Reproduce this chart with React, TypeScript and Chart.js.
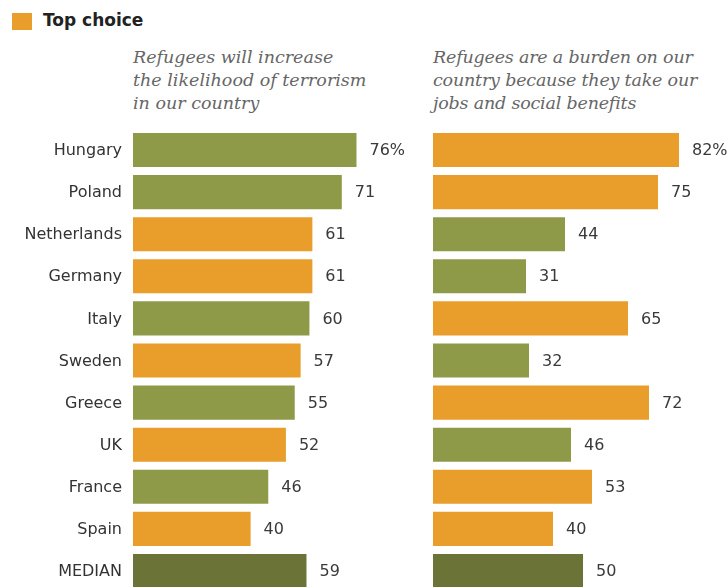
import React, { useEffect, useRef } from "react";
import { Chart, registerables } from "chart.js";

Chart.register(...registerables);

const countries = ["Hungary", "Poland", "Netherlands", "Germany", "Italy", "Sweden", "Greece", "UK", "France", "Spain", "MEDIAN"];
const terrorism = [76, 71, 61, 61, 60, 57, 55, 52, 46, 40, 59];
const burden = [82, 75, 44, 31, 65, 32, 72, 46, 53, 40, 50];
const titleLeft = ["Refugees will increase", "the likelihood of terrorism", "in our country"];
const titleRight = ["Refugees are a burden on our", "country because they take our", "jobs and social benefits"];
const legendLabel = "Top choice";

const ORANGE = "#E99E2C";
const GREEN = "#8F9A48";
const DARK = "#6B7436";

function colorsFor(values: number[], other: number[]) {
  return values.map((v, i) =>
    countries[i] === "MEDIAN" ? DARK : v >= other[i] ? ORANGE : GREEN
  );
}

const valueLabels = {
  id: "valueLabels",
  afterDatasetsDraw(chart: any, _args: any, opts: any) {
    const ctx = chart.ctx;
    const meta = chart.getDatasetMeta(0);
    const data = chart.data.datasets[0].data as number[];
    ctx.save();
    ctx.font = "16px 'DejaVu Sans'";
    ctx.textBaseline = "middle";
    ctx.fillStyle = "#3a3a3a";
    ctx.textAlign = "left";
    meta.data.forEach((el: any, i: number) => {
      const txt = String(data[i]) + (i === 0 ? "%" : "");
      ctx.fillText(txt, el.x + 13, el.y + 1);
    });
    if (opts && opts.categories) {
      const yScale = chart.scales.y;
      ctx.textAlign = "right";
      ctx.fillStyle = "#333";
      chart.data.labels.forEach((lab: string, i: number) => {
        ctx.fillText(lab, chart.chartArea.left - 11, yScale.getPixelForValue(i) + 1);
      });
    }
    ctx.restore();
  },
};

function makeChart(canvas: HTMLCanvasElement, values: number[], other: number[], max: number, showLabels: boolean, padLeft: number, padRight: number) {
  return new Chart(canvas, {
    type: "bar",
    data: {
      labels: countries,
      datasets: [
        {
          data: values,
          backgroundColor: colorsFor(values, other),
          borderWidth: 0,
          barPercentage: 0.81,
          categoryPercentage: 1,
        },
      ],
    },
    options: {
      indexAxis: "y",
      responsive: false,
      animation: false,
      layout: { padding: { top: 129, bottom: 0, left: padLeft, right: padRight } },
      plugins: {
        legend: { display: false },
        tooltip: { enabled: false },
        valueLabels: { categories: showLabels },
      } as any,
      scales: {
        x: { display: false, min: 0, max },
        y: { display: false },
      },
    },
    plugins: [valueLabels],
  });
}

export default function App() {
  const leftRef = useRef<HTMLCanvasElement>(null);
  const rightRef = useRef<HTMLCanvasElement>(null);

  useEffect(() => {
    const a = makeChart(leftRef.current!, terrorism, burden, 90.8, true, 133, 30);
    const b = makeChart(rightRef.current!, burden, terrorism, 98.33, false, 33, 0);
    return () => {
      a.destroy();
      b.destroy();
    };
  }, []);

  const titleStyle: React.CSSProperties = {
    position: "absolute",
    top: 46,
    fontFamily: "'DejaVu Serif', serif",
    fontStyle: "italic",
    fontSize: 17.5,
    lineHeight: "23px",
    color: "#666",
    whiteSpace: "nowrap",
  };

  return (
    <div style={{ position: "fixed", left: 0, top: 0, width: 728, height: 587, overflow: "hidden", background: "#fff" }}>
      <div style={{ position: "absolute", left: 12, top: 13, width: 20, height: 17, background: ORANGE }} />
      <div
        style={{
          position: "absolute",
          left: 43,
          top: 12,
          fontFamily: "'DejaVu Sans', sans-serif",
          fontWeight: "bold",
          fontSize: 17,
          lineHeight: "17px",
          color: "#222",
          whiteSpace: "nowrap",
        }}
      >
        {legendLabel}
      </div>
      <div style={{ ...titleStyle, left: 133 }}>
        {titleLeft.map((t) => (
          <div key={t}>{t}</div>
        ))}
      </div>
      <div style={{ ...titleStyle, left: 433, letterSpacing: "-0.2px" }}>
        {titleRight.map((t) => (
          <div key={t}>{t}</div>
        ))}
      </div>
      <canvas ref={leftRef} width={430} height={592} style={{ position: "absolute", left: 0, top: 0 }} />
      <canvas ref={rightRef} width={328} height={592} style={{ position: "absolute", left: 400, top: 0 }} />
    </div>
  );
}
